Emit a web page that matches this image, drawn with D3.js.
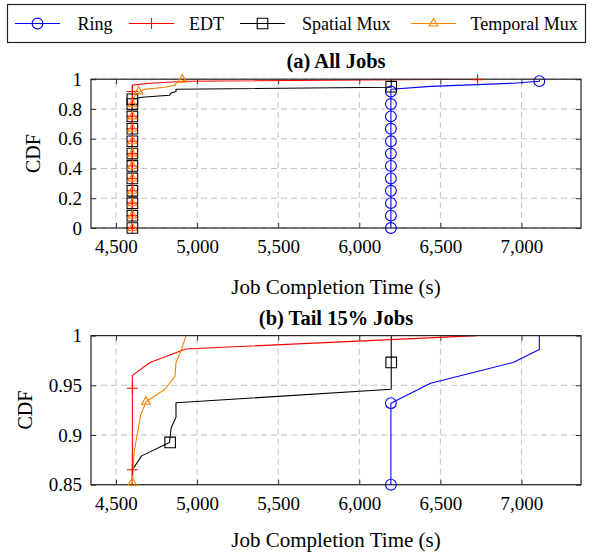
<!DOCTYPE html>
<html><head><meta charset="utf-8">
<script src="https://cdn.jsdelivr.net/npm/d3@7"></script>
<style>
body{margin:0;background:#fff}
svg{display:block}
text{font-family:"Liberation Serif","Times New Roman",serif;fill:#000}
</style>
</head><body>
<svg id="c" width="593" height="554"></svg>
<script>
// ---------------- data ----------------
const seriesNames = ["Ring", "EDT", "Spatial Mux", "Temporal Mux"];
const seriesColors = ["#0000ff", "#ff0000", "#000000", "#ff8000"];
const seriesMarks = ["circle", "plus", "square", "triangle"];

// CDF curves (job completion time in s, cumulative fraction)
const ringX = [6195, 6195, 6440, 6949, 7110, 7110];
const ringY = [0, 0.932, 0.952, 0.973, 0.986, 1.0];
const edtX = [4601, 4601, 4710, 4930, 6729];
const edtY = [0, 0.960, 0.973, 0.9865, 1.0];
const spatialX = [4601, 4601, 4658, 4830, 4840, 4870, 4870, 6197, 6197];
const spatialY = [0, 0.865, 0.879, 0.8925, 0.907, 0.918, 0.9325, 0.946, 1.0];
const temporalX = [4601, 4601, 4612, 4652, 4685, 4802, 4864, 4870, 4905, 4932];
const temporalY = [0, 0.852, 0.883, 0.920, 0.9335, 0.946, 0.959, 0.973, 0.9865, 1.0];

// marker positions, panel (a)
const ringMarkAX = [6195, 6195, 6195, 6195, 6195, 6195, 6195, 6195, 6195, 6195, 6195, 6195, 7110];
const ringMarkAY = [0, 0.083, 0.167, 0.25, 0.333, 0.417, 0.5, 0.583, 0.667, 0.75, 0.833, 0.917, 0.987];
const edtMarkAX = [4601, 4601, 4601, 4601, 4601, 4601, 4601, 4601, 4601, 4601, 4601, 4601, 6729];
const edtMarkAY = [0, 0.083, 0.167, 0.25, 0.333, 0.417, 0.5, 0.583, 0.667, 0.75, 0.833, 0.917, 0.996];
const spatialMarkAX = [4601, 4601, 4601, 4601, 4601, 4601, 4601, 4601, 4601, 4601, 4601, 4601, 6197];
const spatialMarkAY = [0, 0.083, 0.167, 0.25, 0.333, 0.417, 0.5, 0.583, 0.667, 0.75, 0.833, 0.865, 0.95];
const temporalMarkAX = [4601, 4601, 4601, 4601, 4601, 4601, 4601, 4601, 4601, 4601, 4601, 4640, 4908];
const temporalMarkAY = [0, 0.083, 0.167, 0.25, 0.333, 0.417, 0.5, 0.583, 0.667, 0.75, 0.833, 0.917, 0.997];

// marker positions, panel (b)
const ringMarkBX = [6195, 6195];
const ringMarkBY = [0.85, 0.932];
const edtMarkBX = [4601, 4601];
const edtMarkBY = [0.865, 0.947];
const spatialMarkBX = [4834, 6197];
const spatialMarkBY = [0.8925, 0.973];
const temporalMarkBX = [4601, 4685];
const temporalMarkBY = [0.852, 0.9335];

const xTicks = [4500, 5000, 5500, 6000, 6500, 7000];
const yTicksA = [0, 0.2, 0.4, 0.6, 0.8, 1];
const yTicksB = [0.85, 0.9, 0.95, 1];
const titleA = "(a) All Jobs";
const titleB = "(b) Tail 15% Jobs";
const xLabel = "Job Completion Time (s)";
const yLabel = "CDF";

// ---------------- drawing ----------------
const svg = d3.select("#c");
const zip = (xs, ys) => xs.map((x, i) => [x, ys[i]]);
const curves = [zip(ringX, ringY), zip(edtX, edtY), zip(spatialX, spatialY), zip(temporalX, temporalY)];
const marksA = [zip(ringMarkAX, ringMarkAY), zip(edtMarkAX, edtMarkAY), zip(spatialMarkAX, spatialMarkAY), zip(temporalMarkAX, temporalMarkAY)];
const marksB = [zip(ringMarkBX, ringMarkBY), zip(edtMarkBX, edtMarkBY), zip(spatialMarkBX, spatialMarkBY), zip(temporalMarkBX, temporalMarkBY)];

function markPath(kind) {
  if (kind === "circle") { const r = 5.4; return `M${r},0A${r},${r} 0 1,1 ${-r},0A${r},${r} 0 1,1 ${r},0Z`; }
  if (kind === "plus") { const s = 5.6; return `M${-s},0H${s}M0,${-s}V${s}`; }
  if (kind === "square") { const s = 5.3; return `M${-s},${-s}H${s}V${s}H${-s}Z`; }
  const r = 5.0, c = r * Math.cos(Math.PI / 6);
  return `M0,${-r}L${c},${r / 2}L${-c},${r / 2}Z`;
}

function panel(id, top, bottom, yDomain, yTicks, yFmt, title, marks, yLabelX, xLabelOff) {
  const left = 91, right = 581;
  const x = d3.scaleLinear().domain([4346, 7367]).range([left, right]);
  const y = d3.scaleLinear().domain(yDomain).range([bottom, top]);
  const g = svg.append("g");

  g.append("clipPath").attr("id", "clip" + id).append("rect")
    .attr("x", left).attr("y", top).attr("width", right - left).attr("height", bottom - top);

  // grid
  const grid = g.append("g").attr("stroke", "#c4c4c4").attr("stroke-width", 1).attr("stroke-dasharray", "6,4");
  xTicks.forEach(t => grid.append("line").attr("x1", x(t)).attr("x2", x(t)).attr("y1", bottom).attr("y2", top));
  yTicks.forEach(t => grid.append("line").attr("x1", left).attr("x2", right).attr("y1", y(t)).attr("y2", y(t)));

  // axes (ticks inside, both sides)
  const tl = 5;
  const axB = d3.axisBottom(x).tickValues(xTicks).tickSizeInner(-tl).tickSizeOuter(0).tickPadding(12).tickFormat(d3.format(","));
  const axT = d3.axisTop(x).tickValues(xTicks).tickSizeInner(-tl).tickSizeOuter(0).tickFormat("");
  const axL = d3.axisLeft(y).tickValues(yTicks).tickSizeInner(-tl).tickSizeOuter(0).tickPadding(9).tickFormat(yFmt);
  const axR = d3.axisRight(y).tickValues(yTicks).tickSizeInner(-tl).tickSizeOuter(0).tickFormat("");
  [[axB, `translate(0,${bottom})`], [axT, `translate(0,${top})`], [axL, `translate(${left},0)`], [axR, `translate(${right},0)`]]
    .forEach(([ax, tr]) => {
      const a = g.append("g").attr("transform", tr).call(ax);
      a.select(".domain").remove();
      a.selectAll("line").attr("stroke", "#333").attr("stroke-width", 1);
      a.selectAll("text").style("font-family", '"Liberation Serif",serif').style("font-size", "19px").attr("fill", "#000");
    });

  // lines
  const line = d3.line().x(d => x(d[0])).y(d => y(d[1]));
  const lg = g.append("g").attr("clip-path", `url(#clip${id})`);
  curves.forEach((c, i) => {
    lg.append("path").attr("d", line(c)).attr("fill", "none")
      .attr("stroke", seriesColors[i]).attr("stroke-width", 1.1).attr("stroke-linejoin", "round");
  });

  // frame
  g.append("rect").attr("x", left).attr("y", top).attr("width", right - left).attr("height", bottom - top)
    .attr("fill", "none").attr("stroke", "#222").attr("stroke-width", 1.2);

  // markers (not clipped)
  marks.forEach((m, i) => {
    g.append("g").selectAll("path").data(m).join("path")
      .attr("transform", d => `translate(${x(d[0])},${y(d[1])})`)
      .attr("d", markPath(seriesMarks[i]))
      .attr("fill", "none").attr("stroke", seriesColors[i]).attr("stroke-width", 1.1);
  });

  // title
  g.append("text").attr("x", (left + right) / 2).attr("y", top - 11).attr("text-anchor", "middle")
    .style("font-size", "20.5px").style("font-weight", "bold").text(title);
  // x label
  g.append("text").attr("x", (left + right) / 2).attr("y", bottom + xLabelOff).attr("text-anchor", "middle")
    .style("font-size", "21px").text(xLabel);
  // y label
  g.append("text").attr("transform", `translate(${yLabelX},${(top + bottom) / 2}) rotate(-90)`)
    .attr("text-anchor", "middle").style("font-size", "20px").text(yLabel);
}

panel("a", 79.2, 228, [0, 1], yTicksA, d => d3.format("")(d), titleA, marksA, 40, 66);
panel("b", 335.6, 484.7, [0.85, 1], yTicksB, d => d3.format("")(+d.toFixed(2)), titleB, marksB, 32, 62);

// legend
const lg = svg.append("g");
lg.append("rect").attr("x", 7.5).attr("y", 4.5).attr("width", 578).attr("height", 38)
  .attr("fill", "#fff").attr("stroke", "#222").attr("stroke-width", 1.2);
const legLineX = [15, 129, 240, 411];
const legTextX = [77.5, 189, 302, 470.5];
seriesNames.forEach((n, i) => {
  const ly = 23.5;
  lg.append("line").attr("x1", legLineX[i]).attr("x2", legLineX[i] + 45).attr("y1", ly).attr("y2", ly)
    .attr("stroke", seriesColors[i]).attr("stroke-width", 1.1);
  lg.append("path").attr("transform", `translate(${legLineX[i] + 22.5},${ly})`).attr("d", markPath(seriesMarks[i]))
    .attr("fill", "none").attr("stroke", seriesColors[i]).attr("stroke-width", 1.1);
  lg.append("text").attr("x", legTextX[i]).attr("y", ly + 6).style("font-size", "18px").text(n);
});
</script>
</body></html>
